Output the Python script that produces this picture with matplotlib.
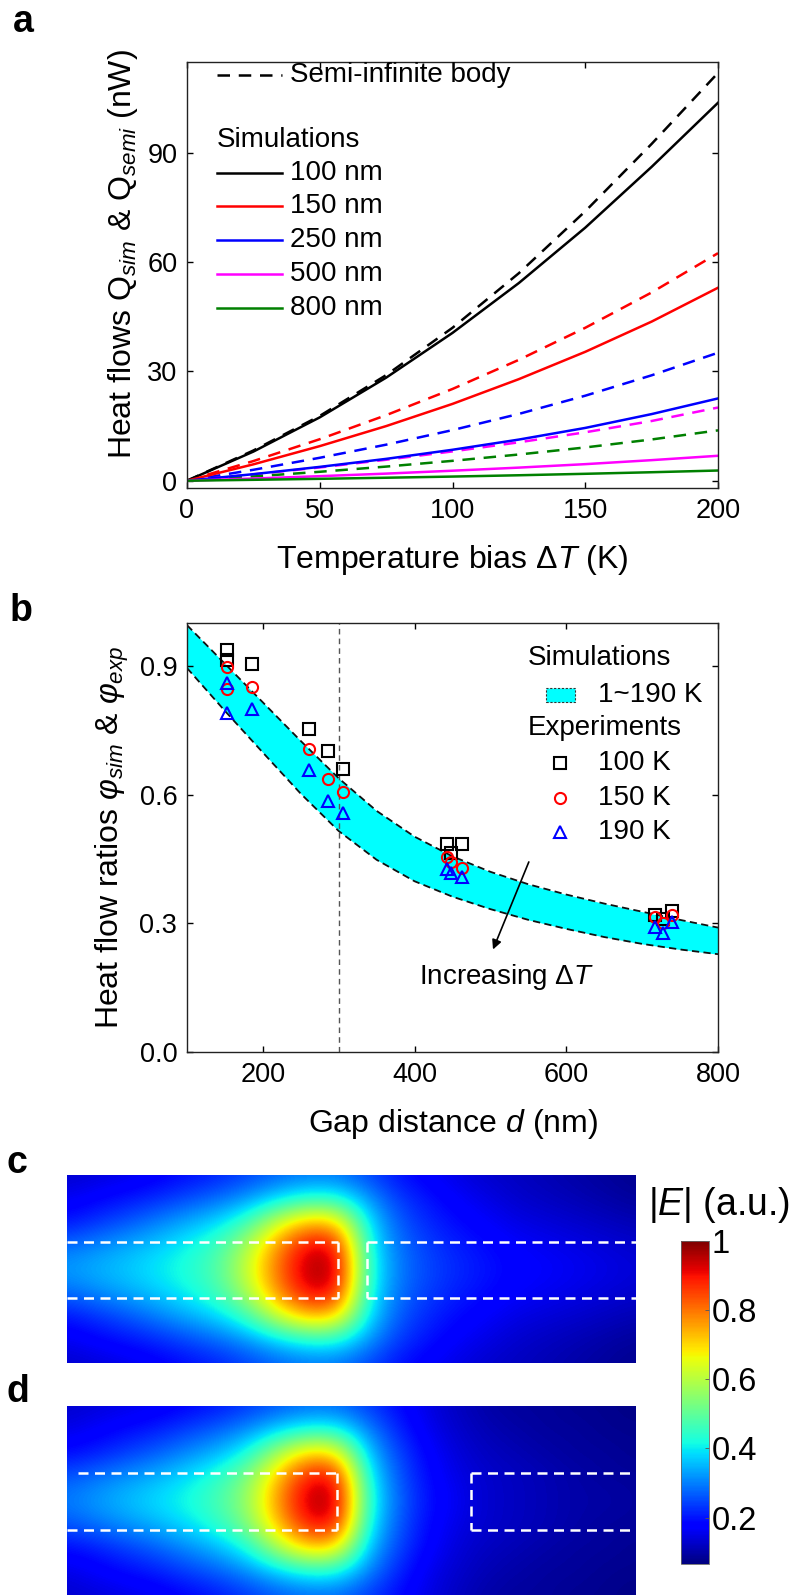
import numpy as np
import matplotlib.pyplot as plt

plt.rcParams.update({
    "font.family": "Liberation Sans",
    "mathtext.fontset": "custom",
    "mathtext.rm": "Liberation Sans",
    "mathtext.it": "Liberation Sans:italic",
    "mathtext.bf": "Liberation Sans:bold",
    "axes.linewidth": 1.0,
    "axes.edgecolor": "#222222",
    "xtick.direction": "in",
    "ytick.direction": "in",
    "xtick.top": True,
    "ytick.right": True,
    "xtick.major.size": 4.5,
    "ytick.major.size": 4.5,
    "xtick.major.width": 1.0,
    "ytick.major.width": 1.0,
    "xtick.major.pad": 7,
    "ytick.major.pad": 7,
    "xtick.labelsize": 19.5,
    "ytick.labelsize": 19.5,
})

# ---------------- panel a: heat flow vs temperature bias ----------------
dT = [0, 25, 50, 75, 100, 125, 150, 175, 200]
q_sim_100 = [0, 8, 17.4, 28.3, 40.6, 54.3, 69.5, 86.2, 103.8]
q_sim_150 = [0, 4.5, 9.5, 15, 21.1, 27.9, 35.4, 43.7, 53]
q_sim_250 = [0, 1.8, 3.8, 6.0, 8.5, 11.3, 14.5, 18.3, 22.6]
q_sim_500 = [0, 0.6, 1.25, 1.95, 2.75, 3.6, 4.55, 5.65, 6.85]
q_sim_800 = [0, 0.25, 0.52, 0.82, 1.14, 1.5, 1.9, 2.33, 2.8]
q_semi_100 = [0, 8.3, 17.8, 29, 42, 57, 74, 92.5, 112]
q_semi_150 = [0, 5.4, 11.4, 18, 25.2, 33.2, 42, 51.7, 62.5]
q_semi_250 = [0, 3.0, 6.3, 9.9, 13.9, 18.35, 23.35, 28.95, 35.15]
q_semi_500 = [0, 1.75, 3.65, 5.75, 8.05, 10.55, 13.3, 16.4, 20.1]
q_semi_800 = [0, 1.17, 2.45, 3.88, 5.46, 7.2, 9.14, 11.33, 13.83]
gap_labels = ["100 nm", "150 nm", "250 nm", "500 nm", "800 nm"]

# ---------------- panel b: heat flow ratio vs gap ----------------
d_band = [100, 150, 200, 250, 300, 350, 400, 450, 500, 550, 600, 650, 700, 750, 800]
phi_upper = [0.995, 0.905, 0.815, 0.725, 0.638, 0.562, 0.502, 0.456, 0.420, 0.391, 0.367, 0.346, 0.327, 0.308, 0.29]
phi_lower = [0.895, 0.795, 0.698, 0.602, 0.515, 0.448, 0.398, 0.362, 0.333, 0.308, 0.287, 0.268, 0.252, 0.239, 0.228]
d_exp = [153, 153, 186, 261, 286, 306, 443, 448, 462, 717, 728, 739]
phi_100K = [0.937, 0.914, 0.905, 0.753, 0.702, 0.66, 0.486, 0.465, 0.484, 0.32, 0.31, 0.328]
phi_150K = [0.898, 0.847, 0.851, 0.707, 0.637, 0.605, 0.454, 0.442, 0.428, 0.314, 0.300, 0.319]
phi_190K = [0.86, 0.791, 0.80, 0.658, 0.584, 0.558, 0.426, 0.417, 0.407, 0.291, 0.277, 0.302]
d_ref = 300
arrow_from = (552, 0.449)
arrow_to = (502, 0.233)

# ---------------- panels c, d: |E| field maps (rows top->bottom) ----------------
field_c = [
    [0.13, 0.14, 0.15, 0.17, 0.19, 0.21, 0.24, 0.27, 0.29, 0.29, 0.25, 0.20, 0.17, 0.15, 0.13, 0.12, 0.11, 0.10, 0.09, 0.08],
    [0.16, 0.18, 0.20, 0.22, 0.25, 0.28, 0.32, 0.38, 0.43, 0.43, 0.33, 0.24, 0.20, 0.17, 0.15, 0.13, 0.12, 0.11, 0.10, 0.09],
    [0.20, 0.23, 0.26, 0.30, 0.34, 0.38, 0.46, 0.62, 0.74, 0.72, 0.40, 0.27, 0.22, 0.19, 0.17, 0.15, 0.14, 0.13, 0.12, 0.11],
    [0.28, 0.31, 0.34, 0.37, 0.41, 0.46, 0.58, 0.77, 0.92, 0.92, 0.43, 0.29, 0.24, 0.21, 0.19, 0.17, 0.16, 0.15, 0.14, 0.13],
    [0.33, 0.35, 0.37, 0.40, 0.43, 0.48, 0.62, 0.80, 0.96, 0.97, 0.45, 0.30, 0.25, 0.22, 0.20, 0.18, 0.17, 0.16, 0.15, 0.14],
    [0.28, 0.31, 0.34, 0.37, 0.41, 0.46, 0.58, 0.77, 0.92, 0.92, 0.43, 0.29, 0.24, 0.21, 0.19, 0.17, 0.16, 0.15, 0.14, 0.13],
    [0.20, 0.23, 0.26, 0.30, 0.34, 0.38, 0.46, 0.62, 0.74, 0.72, 0.40, 0.27, 0.22, 0.19, 0.17, 0.15, 0.14, 0.13, 0.12, 0.11],
    [0.16, 0.18, 0.20, 0.22, 0.25, 0.28, 0.32, 0.38, 0.43, 0.43, 0.33, 0.24, 0.20, 0.17, 0.15, 0.13, 0.12, 0.11, 0.10, 0.09],
    [0.13, 0.14, 0.15, 0.17, 0.19, 0.21, 0.24, 0.27, 0.29, 0.29, 0.25, 0.20, 0.17, 0.15, 0.13, 0.12, 0.11, 0.10, 0.09, 0.08],
]
field_d = [
    [0.13, 0.14, 0.15, 0.16, 0.18, 0.20, 0.23, 0.26, 0.28, 0.28, 0.24, 0.19, 0.15, 0.12, 0.10, 0.09, 0.09, 0.08, 0.08, 0.07],
    [0.15, 0.17, 0.19, 0.21, 0.24, 0.27, 0.31, 0.37, 0.42, 0.42, 0.31, 0.22, 0.16, 0.13, 0.11, 0.10, 0.09, 0.09, 0.08, 0.08],
    [0.19, 0.21, 0.24, 0.27, 0.31, 0.35, 0.42, 0.58, 0.72, 0.70, 0.37, 0.25, 0.18, 0.14, 0.12, 0.11, 0.10, 0.09, 0.09, 0.08],
    [0.26, 0.29, 0.32, 0.35, 0.39, 0.44, 0.53, 0.72, 0.90, 0.92, 0.42, 0.27, 0.19, 0.15, 0.13, 0.12, 0.11, 0.10, 0.09, 0.09],
    [0.30, 0.33, 0.36, 0.39, 0.42, 0.47, 0.56, 0.76, 0.95, 0.97, 0.45, 0.28, 0.20, 0.16, 0.13, 0.12, 0.11, 0.10, 0.10, 0.09],
    [0.26, 0.29, 0.32, 0.35, 0.39, 0.44, 0.53, 0.72, 0.90, 0.92, 0.42, 0.27, 0.19, 0.15, 0.13, 0.12, 0.11, 0.10, 0.09, 0.09],
    [0.19, 0.21, 0.24, 0.27, 0.31, 0.35, 0.42, 0.58, 0.72, 0.70, 0.37, 0.25, 0.18, 0.14, 0.12, 0.11, 0.10, 0.09, 0.09, 0.08],
    [0.15, 0.17, 0.19, 0.21, 0.24, 0.27, 0.31, 0.37, 0.42, 0.42, 0.31, 0.22, 0.16, 0.13, 0.11, 0.10, 0.09, 0.09, 0.08, 0.08],
    [0.13, 0.14, 0.15, 0.16, 0.18, 0.20, 0.23, 0.26, 0.28, 0.28, 0.24, 0.19, 0.15, 0.12, 0.10, 0.09, 0.09, 0.08, 0.08, 0.07],
]
# outlines of tip / slab in fractional map coordinates (x right, y down)
tip_top, tip_bot = 0.356, 0.654
tip_end_c, slab_start_c = 0.476, 0.527
tip_end_d, slab_start_d = 0.475, 0.710
cbar_ticks = [0.2, 0.4, 0.6, 0.8, 1.0]
E_min, E_max = 0.066, 1.0

W, H = 796, 1596
fig = plt.figure(figsize=(W / 100, H / 100), dpi=100)


def box(l, t, r, b):
    return [l / W, 1 - b / H, (r - l) / W, (b - t) / H]


# ---------- a ----------
ax = fig.add_axes(box(187, 62, 718, 488))
sim_sets = [q_sim_100, q_sim_150, q_sim_250, q_sim_500, q_sim_800]
semi_sets = [q_semi_100, q_semi_150, q_semi_250, q_semi_500, q_semi_800]
line_colors = ["black", "red", "blue", "magenta", "green"]
for ys, c in zip(semi_sets, line_colors):
    ax.plot(dT, ys, color=c, lw=1.8, ls=(0, (5, 3.5)))
for ys, c in zip(sim_sets, line_colors):
    ax.plot(dT, ys, color=c, lw=1.8)
ax.set_xlim(0, 200)
ax.set_ylim(-2, 115)
ax.set_xticks([0, 50, 100, 150, 200])
ax.set_yticks([0, 30, 60, 90])
ax.set_xlabel(r"Temperature bias Δ$\mathit{T}$ (K)", fontsize=23, va="center")
ax.set_ylabel(r"Heat flows $\mathrm{Q}_{sim}$ & $\mathrm{Q}_{semi}$ (nW)", fontsize=23, va="center")
ax.xaxis.set_label_coords(0.5, -0.169)
ax.yaxis.set_label_coords(-0.12, 0.55)

# legend drawn by hand (Origin style with header rows)
def yfa(py):
    return (488 - py) / 426

hx0, hx1, tx = (217 - 187) / 531, (282 - 187) / 531, (290 - 187) / 531
rows_a = [75, 140, 173, 206, 240, 274, 308]
ax.plot([hx0, hx1], [yfa(rows_a[0])] * 2, transform=ax.transAxes, color="black", lw=1.8, ls=(0, (5, 3.5)))
ax.text(tx, yfa(rows_a[0]), "Semi-infinite body", transform=ax.transAxes, fontsize=20, va="center")
ax.text(hx0, yfa(rows_a[1]), "Simulations", transform=ax.transAxes, fontsize=20, va="center")
for py, lab, c in zip(rows_a[2:], gap_labels, line_colors):
    ax.plot([hx0, hx1], [yfa(py)] * 2, transform=ax.transAxes, color=c, lw=1.8)
    ax.text(tx, yfa(py), lab, transform=ax.transAxes, fontsize=20, va="center")

# ---------- b ----------
bx = fig.add_axes(box(187, 623, 718, 1052))
bx.fill_between(d_band, phi_lower, phi_upper, color="#00ffff", lw=0)
bx.plot(d_band, phi_upper, color="#111111", lw=1.3, ls=(0, (4, 2.4)))
bx.plot(d_band, phi_lower, color="#111111", lw=1.3, ls=(0, (4, 2.4)))
bx.axvline(d_ref, color="#555555", lw=1.0, ls=(0, (4, 3)))
mk = dict(ms=8, mew=1.5, mfc="none", ls="none")
bx.plot(d_exp, phi_100K, marker="s", mec="black", **mk)
bx.plot(d_exp, phi_150K, marker="o", mec="red", **mk)
bx.plot(d_exp, phi_190K, marker="^", mec="blue", **mk)
bx.annotate("", xy=arrow_to, xytext=arrow_from,
            arrowprops=dict(arrowstyle="-|>", color="black", lw=1.2, mutation_scale=14))
bx.text(406, 0.175, r"Increasing Δ$\mathit{T}$", fontsize=20, va="center", ha="left")
bx.set_xlim(100, 800)
bx.set_ylim(0, 1.0)
bx.set_xticks([200, 400, 600, 800])
bx.set_yticks([0.0, 0.3, 0.6, 0.9])
bx.set_yticklabels(["0.0", "0.3", "0.6", "0.9"])
bx.set_xlabel(r"Gap distance $\mathit{d}$ (nm)", fontsize=23, va="center")
bx.set_ylabel(r"Heat flow ratios $\varphi_{sim}$ & $\varphi_{exp}$", fontsize=23, va="center")
bx.xaxis.set_label_coords(0.5, -0.168)
bx.yaxis.set_label_coords(-0.141, 0.5)

def yfb(py):
    return (1052 - py) / 429

def xfb(px):
    return (px - 187) / 531

bx.text(xfb(528), yfb(658), "Simulations", transform=bx.transAxes, fontsize=20, va="center")
bx.add_patch(plt.Rectangle((xfb(546), yfb(702)), xfb(575) - xfb(546), yfb(688) - yfb(702),
                           transform=bx.transAxes, facecolor="#00ffff", edgecolor="#333333",
                           lw=0.8, ls=(0, (2, 1.5))))
bx.text(xfb(598), yfb(695), "1~190 K", transform=bx.transAxes, fontsize=20, va="center")
bx.text(xfb(528), yfb(728), "Experiments", transform=bx.transAxes, fontsize=20, va="center")
for py, m, c, lab in zip([763, 798, 832], ["s", "o", "^"], ["black", "red", "blue"],
                         ["100 K", "150 K", "190 K"]):
    bx.plot([xfb(560)], [yfb(py)], transform=bx.transAxes, marker=m, mec=c, mfc="none",
            ms=8, mew=1.5, ls="none")
    bx.text(xfb(598), yfb(py), lab, transform=bx.transAxes, fontsize=20, va="center")

for a_ in (ax, bx):
    for s in a_.spines.values():
        s.set_color("#222222")

# ---------- c, d ----------
def field_map(axm, grid, tip_end, slab_start, upper_start):
    g = np.array(grid)
    nr, nc = g.shape
    dx, dy = 1 / (nc - 1), 1 / (nr - 1)
    im = axm.imshow(g, cmap="jet", vmin=E_min, vmax=E_max, aspect="auto",
                    interpolation="bicubic",
                    extent=(-dx / 2, 1 + dx / 2, 1 + dy / 2, -dy / 2))
    axm.set_xlim(0, 1)
    axm.set_ylim(1, 0)
    axm.set_axis_off()
    dash = dict(color="white", lw=1.8, ls=(0, (4, 2.6)))
    axm.plot([upper_start, tip_end], [tip_top, tip_top], **dash)
    axm.plot([0, tip_end], [tip_bot, tip_bot], **dash)
    axm.plot([tip_end, tip_end], [tip_top, tip_bot], **dash)
    axm.plot([slab_start, 1], [tip_top, tip_top], **dash)
    axm.plot([slab_start, 1], [tip_bot, tip_bot], **dash)
    axm.plot([slab_start, slab_start], [tip_top, tip_bot], **dash)
    return im

cx = fig.add_axes(box(67, 1175, 636, 1363))
im = field_map(cx, field_c, tip_end_c, slab_start_c, 0.0)
dx_ = fig.add_axes(box(67, 1406, 636, 1595))
field_map(dx_, field_d, tip_end_d, slab_start_d, 0.019)

cax = fig.add_axes(box(681, 1241, 709, 1564))
cb = fig.colorbar(im, cax=cax, ticks=cbar_ticks)
cb.ax.set_yticklabels(["0.2", "0.4", "0.6", "0.8", "1"])
cb.ax.tick_params(labelsize=23.5, length=3, width=0.6, color="#555555", pad=2, right=True, left=False)
cb.outline.set_linewidth(0.6)
cb.outline.set_edgecolor("#666666")
fig.text(648 / W, 1 - 1205 / H, r"|$\mathit{E}$| (a.u.)", fontsize=27, va="center", ha="left")

# panel letters
for lab, px, py in [("a", 13, 32), ("b", 10, 621), ("c", 7, 1173), ("d", 7, 1402)]:
    fig.text(px / W, 1 - py / H, lab, fontsize=27, fontweight="bold", va="baseline", ha="left")

fig.savefig("out.png", dpi=100)
